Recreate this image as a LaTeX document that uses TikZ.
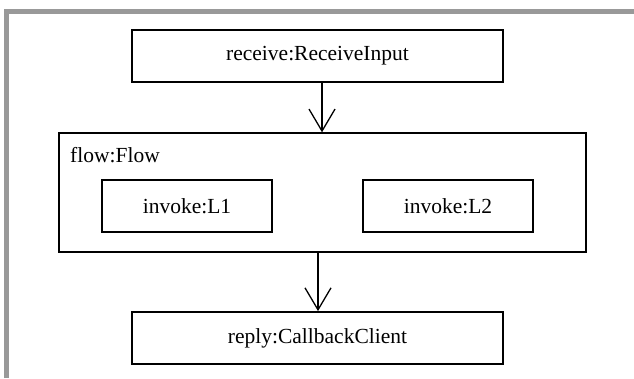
\documentclass[tikz,border=0pt]{standalone}
\usepackage{fontspec}
\setmainfont{Liberation Serif}
\usetikzlibrary{arrows.meta}

\definecolor{framegray}{RGB}{153,153,153}

\begin{document}
\begin{tikzpicture}[x=1pt,y=-1pt,
    font=\fontsize{21.5}{25}\selectfont,
    activity/.style={draw, line width=1.8pt, minimum width=371pt, minimum height=52pt, inner sep=0pt},
    task/.style={draw, line width=1.3pt, minimum width=170pt, minimum height=52pt, inner sep=0pt},
    flowto/.style={-{Straight Barb[length=22pt,width=26pt]}, line width=1.3pt}]

    \useasboundingbox (0,0) rectangle (634,378);

    % frame of the canvas
    \draw[framegray, line width=5pt] (6.5,378) -- (6.5,11.5) -- (634,11.5);

    \node[activity] (receive) at (317.5,56) {receive:ReceiveInput};

    % the flow with its two invokes
    \node[draw, line width=1.3pt, minimum width=527pt, minimum height=119pt] (flow) at (322.5,192.5) {};
    \node[anchor=west, inner sep=0pt] (flowname) at (70,155) {flow:Flow};
    \node[task] (invokeA) at (187,206) {invoke:L1};
    \node[task] (invokeB) at (448,206) {invoke:L2};

    \node[activity] (reply) at (317.5,338) {reply:CallbackClient};

    \draw[flowto] ([xshift=4.5pt]receive.south) -- ([xshift=4.5pt]receive.south |- flow.north);
    \draw[flowto] ([xshift=-4.5pt]flow.south) -- ([xshift=-4.5pt]flow.south |- reply.north);

\end{tikzpicture}
\end{document}
